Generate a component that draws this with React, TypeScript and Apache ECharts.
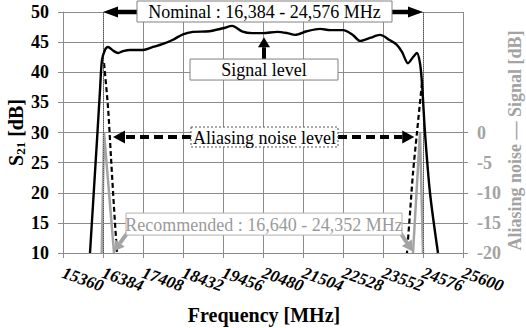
import React, { useEffect, useRef } from "react";
import * as echarts from "echarts";

const X_MIN = 15360;
const X_MAX = 25600;
const X_STEP = 1024;
const Y_MIN = 10;
const Y_MAX = 50;
const Y_STEP = 5;
const R_MIN = -20;
const R_MAX = 0;

// x tick labels (MHz)
const xTickLabels = [
  15360, 16384, 17408, 18432, 19456, 20480, 21504, 22528, 23552, 24576, 25600,
];

// Signal level S21 [dB]
const signalFreq = [
  16051, 16230, 16307, 16358, 16435, 16512, 16640, 16768, 16896, 17075, 17408,
  17664, 17920, 18176, 18432, 18688, 19100, 19456, 19690, 19940, 20200, 20480,
  20840, 21100, 21300, 21600, 21940, 22200, 22530, 22780, 22963, 23219, 23475,
  23731, 23900, 24038, 24192, 24320, 24422, 24499, 24550, 24627, 24755, 24960,
];
const signalDb = [
  10, 28.7, 37, 42, 43.7, 44.2, 43.6, 43.2, 43.5, 43.7, 43.7,
  44.2, 44.7, 45.4, 46.3, 46.7, 46.8, 47.3, 47.7, 46.8, 46.5, 46.5,
  46.7, 46.5, 46.2, 46.8, 47.2, 47.0, 47.0, 46.2, 45.2, 45.7, 46.2,
  45.3, 44.6, 43.4, 41.5, 42.5, 43.2, 41.5, 38.2, 30, 20, 10,
];

// Aliasing noise (dashed)
const aliasLeftFreq = [16410, 16512, 16589, 16666, 16742];
const aliasLeftDb = [41.5, 34.2, 25.8, 17.5, 10];
const aliasRightFreq = [24550, 24422, 24320, 24243, 24166];
const aliasRightDb = [38.2, 30, 23.3, 16.6, 10];

// Aliasing noise - Signal (right axis, gray)
const recLeftFreq = [16350, 16410, 16666];
const recLeftDb = [-20, 0, -20];
const recRightFreq = [24320, 24499, 24576];
const recRightDb = [-20, 0, -20];

const nominalEdges = [16384, 24576];
const recommendedEdges = [16640, 24352];
const CENTER_FREQ = 20480;

const FONT = "'Liberation Serif', 'Times New Roman', serif";
const GRID_COLOR = "#8c8c8c";
const GRAY = "#a3a3a3";

const zip = (a: number[], b: number[]) => a.map((v, i) => [v, b[i]]);

function arrow(
  x1: number, y1: number, x2: number, y2: number,
  color: string, w: number, headLen: number, headHalf: number, dash?: number[]
) {
  const dx = x2 - x1, dy = y2 - y1;
  const L = Math.hypot(dx, dy);
  const ux = dx / L, uy = dy / L;
  const bx = x2 - ux * headLen, by = y2 - uy * headLen;
  const px = -uy, py = ux;
  return [
    {
      type: "line",
      shape: { x1, y1, x2: bx, y2: by },
      style: { stroke: color, lineWidth: w, lineDash: dash || null },
      z: 10,
    },
    {
      type: "polygon",
      shape: {
        points: [
          [x2, y2],
          [bx + px * headHalf, by + py * headHalf],
          [bx - px * headHalf, by - py * headHalf],
        ],
      },
      style: { fill: color },
      z: 10,
    },
  ];
}

function box(cx: number, cy: number, w: number, h: number, text: string, opts: any) {
  return [
    {
      type: "rect",
      shape: { x: cx - w / 2, y: cy - h / 2, width: w, height: h },
      style: {
        fill: "#fff",
        stroke: opts.stroke,
        lineWidth: 1,
        lineDash: opts.dash || null,
      },
      z: 11,
    },
    {
      type: "text",
      x: cx,
      y: cy + 0.5,
      style: {
        text,
        fill: opts.color,
        fontFamily: FONT,
        fontSize: 18,
        textAlign: "center",
        textVerticalAlign: "middle",
      },
      z: 12,
    },
  ];
}

export default function App() {
  const ref = useRef<HTMLDivElement>(null);

  useEffect(() => {
    const chart = echarts.init(ref.current!, undefined, { renderer: "svg" });
    const option: any = {
      animation: false,
      backgroundColor: "#fff",
      grid: [
        { left: 63, right: 63, top: 12, bottom: 75 },
        { left: 63, right: 63, top: 132.5, bottom: 75 },
      ],
      xAxis: [
        {
          type: "value",
          gridIndex: 0,
          min: X_MIN,
          max: X_MAX,
          interval: X_STEP,
          axisLine: { show: true, lineStyle: { color: GRID_COLOR, width: 1 } },
          axisTick: { show: true, length: 5, lineStyle: { color: GRID_COLOR } },
          axisLabel: { show: false },
          splitLine: { show: true, lineStyle: { color: GRID_COLOR, width: 1 } },
        },
        {
          type: "value",
          gridIndex: 1,
          min: X_MIN,
          max: X_MAX,
          show: false,
          splitLine: { show: false },
        },
      ],
      yAxis: [
        {
          type: "value",
          gridIndex: 0,
          min: Y_MIN,
          max: Y_MAX,
          interval: Y_STEP,
          axisLine: { show: true, lineStyle: { color: GRID_COLOR, width: 1 } },
          axisTick: { show: true, length: 5, lineStyle: { color: GRID_COLOR } },
          axisLabel: {
            margin: 14,
            color: "#000",
            fontFamily: FONT,
            fontSize: 18,
            fontWeight: "bold",
            showMinLabel: true,
            showMaxLabel: true,
          },
          splitLine: { show: true, lineStyle: { color: GRID_COLOR, width: 1 } },
        },
        {
          type: "value",
          gridIndex: 1,
          position: "right",
          min: R_MIN,
          max: R_MAX,
          interval: 5,
          axisLine: { show: false },
          axisTick: { show: true, length: 5, lineStyle: { color: GRID_COLOR } },
          axisLabel: {
            margin: 14,
            color: GRAY,
            fontFamily: FONT,
            fontSize: 18,
            fontWeight: "bold",
            showMinLabel: true,
            showMaxLabel: true,
          },
          splitLine: { show: false },
        },
      ],
      series: [
        {
          type: "line",
          name: "Signal level",
          xAxisIndex: 0,
          yAxisIndex: 0,
          data: zip(signalFreq, signalDb),
          showSymbol: false,
          symbol: "none",
          smooth: 0.3,
          lineStyle: { color: "#000", width: 2.4 },
          z: 5,
          markLine: {
            silent: true,
            symbol: ["none", "none"],
            label: { show: false },
            lineStyle: { color: "#555", type: "dotted", width: 1 },
            data: nominalEdges.map((f) => ({ xAxis: f })),
          },
        },
        {
          type: "line",
          xAxisIndex: 0,
          yAxisIndex: 0,
          data: zip(aliasLeftFreq, aliasLeftDb),
          symbol: "none",
          smooth: 0.3,
          lineStyle: { color: "#000", width: 2.2, type: [5, 3] },
          z: 4,
        },
        {
          type: "line",
          xAxisIndex: 0,
          yAxisIndex: 0,
          data: zip(aliasRightFreq, aliasRightDb),
          symbol: "none",
          smooth: 0.3,
          lineStyle: { color: "#000", width: 2.2, type: [5, 3] },
          z: 4,
        },
        {
          type: "line",
          xAxisIndex: 1,
          yAxisIndex: 1,
          data: zip(recLeftFreq, recLeftDb),
          symbol: "none",
          lineStyle: { color: GRAY, width: 2.5 },
          z: 3,
        },
        {
          type: "line",
          xAxisIndex: 1,
          yAxisIndex: 1,
          data: zip(recRightFreq, recRightDb),
          symbol: "none",
          lineStyle: { color: GRAY, width: 2.5 },
          z: 3,
        },
      ],
    };
    chart.setOption(option);

    const P = (f: number, v: number) =>
      chart.convertToPixel({ gridIndex: 0 } as any, [f, v]) as number[];

    const g: any[] = [];

    // X tick labels (rotated, all shown)
    xTickLabels.forEach((v) => {
      const p = P(v, Y_MIN);
      g.push({
        type: "text",
        x: p[0],
        y: p[1] + 19,
        rotation: (-20 * Math.PI) / 180,
        style: {
          text: String(v),
          fill: "#000",
          fontFamily: FONT,
          fontSize: 17,
          fontWeight: "bold",
          fontStyle: "italic",
          textAlign: "left",
          textVerticalAlign: "middle",
        },
      });
    });

    // Nominal
    const nl = P(nominalEdges[0], Y_MAX);
    const nr = P(nominalEdges[1], Y_MAX);
    const nomCx = (nl[0] + nr[0]) / 2 + 1.5;
    const nomW = 255;
    g.push(...arrow(nomCx - nomW / 2, nl[1], nl[0], nl[1], "#000", 4.5, 15, 5.5));
    g.push(...arrow(nomCx + nomW / 2, nr[1], nr[0], nr[1], "#000", 4.5, 15, 5.5));
    g.push(...box(nomCx, nl[1] - 0.5, nomW, 21, "Nominal : 16,384 - 24,576 MHz", { stroke: "#808080", color: "#000" }));

    // Signal level
    const sb = P(CENTER_FREQ, 40.45);
    const st = P(CENTER_FREQ, 45.8);
    g.push(...arrow(sb[0] + 1, sb[1] - 10, st[0] + 1, st[1], "#000", 4, 10, 6));
    g.push(...box(sb[0] + 1, sb[1], 148, 21, "Signal level", { stroke: "#808080", color: "#000" }));

    // Aliasing noise level
    const ab = P(CENTER_FREQ, 29.25);
    const al = P(recommendedEdges[0], 29.25);
    const ar = P(recommendedEdges[1], 29.25);
    const aW = 147;
    g.push(...arrow(ab[0] + 1.5 - aW / 2, ab[1], al[0], al[1], "#000", 4, 12, 6.5, [9, 5]));
    g.push(...arrow(ab[0] + 1.5 + aW / 2, ab[1], ar[0], ar[1], "#000", 4, 12, 6.5, [9, 5]));
    g.push(...box(ab[0] + 1.5, ab[1], aW, 20, "Aliasing noise level", { stroke: "#555", color: "#000", dash: [2, 2] }));

    // Recommended
    const rb = P(CENTER_FREQ, 14.8);
    const rl = P(recommendedEdges[0], 10.3);
    const rr = P(recommendedEdges[1], 10.3);
    const rW = 276, rH = 22;
    g.push(...arrow(rb[0] + 1 - rW / 2 + 2, rb[1] + rH / 2 - 3, rl[0] + 1, rl[1], GRAY, 4, 10, 6));
    g.push(...arrow(rb[0] + 1 + rW / 2 - 2, rb[1] + rH / 2 - 3, rr[0] - 2, rr[1], GRAY, 4, 10, 6));
    g.push(...box(rb[0] + 1, rb[1], rW, rH, "Recommended : 16,640 - 24,352 MHz", { stroke: "#b0b0b0", color: "#9a9a9a" }));

    // Axis names
    const mid = P(CENTER_FREQ, (Y_MIN + Y_MAX) / 2);
    g.push({
      type: "text",
      x: 16,
      y: mid[1],
      rotation: Math.PI / 2,
      style: {
        text: "{s|S}{sub|21}{n| [dB]}",
        textAlign: "center",
        textVerticalAlign: "middle",
        rich: {
          s: { fontFamily: FONT, fontSize: 20, fontWeight: "bold", fill: "#000", lineHeight: 22 },
          sub: { fontFamily: FONT, fontSize: 13, fontWeight: "bold", fill: "#000", lineHeight: 12, verticalAlign: "bottom" },
          n: { fontFamily: FONT, fontSize: 20, fontWeight: "bold", fill: "#000", lineHeight: 22 },
        },
      },
    });
    g.push({
      type: "text",
      x: 515,
      y: mid[1] + 8,
      rotation: Math.PI / 2,
      style: {
        text: "Aliasing noise \u2014 Signal [dB]",
        fill: GRAY,
        fontFamily: FONT,
        fontSize: 18,
        fontWeight: "bold",
        textAlign: "center",
        textVerticalAlign: "middle",
      },
    });
    g.push({
      type: "text",
      x: mid[0] + 1,
      y: 315,
      style: {
        text: "Frequency [MHz]",
        fill: "#000",
        fontFamily: FONT,
        fontSize: 20,
        fontWeight: "bold",
        textAlign: "center",
        textVerticalAlign: "middle",
      },
    });

    chart.setOption({ graphic: { elements: g } });

    return () => chart.dispose();
  }, []);

  return (
    <div
      ref={ref}
      style={{ position: "fixed", left: 0, top: 0, width: 526, height: 328 }}
    />
  );
}
